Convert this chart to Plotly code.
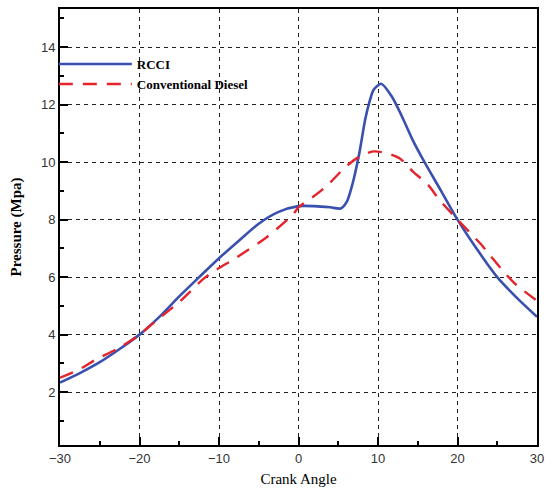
import plotly.graph_objects as go

# Cylinder pressure traces versus crank angle
rcci_angle = [-30, -27.5, -25, -22.5, -20, -17.5, -15, -12.5, -10, -7.5, -5, -2.5,
              0, 2, 4, 5.3, 6.1, 6.8, 7.6, 8.4, 8.9, 9.45, 10.4, 11.7, 13, 14.4,
              15.85, 18, 20, 22.5, 25, 27.5, 30]
rcci_pressure = [2.33, 2.66, 3.04, 3.5, 4.0, 4.62, 5.33, 6.0, 6.66, 7.27, 7.86, 8.27,
                 8.47, 8.47, 8.43, 8.39, 8.64, 9.25, 10.24, 11.5, 12.07, 12.52, 12.73,
                 12.3, 11.6, 10.75, 10.0, 8.97, 8.0, 6.95, 6.0, 5.27, 4.62]

diesel_angle = [-30, -27.5, -25.7, -22.5, -20, -18.2, -14.9, -11.7, -7.7, -4, -0.7, 0,
                2.2, 3.8, 5.7, 7.4, 9.25, 10.9, 12.75, 14.4, 16.3, 17.7, 20, 22.9,
                24.1, 25.8, 27.4, 30]
diesel_pressure = [2.5, 2.8, 3.1, 3.55, 4.0, 4.42, 5.16, 6.0, 6.7, 7.39, 8.18, 8.43,
                   8.87, 9.24, 9.78, 10.15, 10.37, 10.33, 10.13, 9.67, 9.21, 8.7, 8.0,
                   7.16, 6.76, 6.19, 5.73, 5.18]

x_ticks = [-30, -20, -10, 0, 10, 20, 30]
y_ticks = [2, 4, 6, 8, 10, 12, 14]

fig = go.Figure()
fig.add_trace(go.Scatter(
    x=rcci_angle, y=rcci_pressure, mode="lines", name="<b>RCCI</b>",
    line=dict(color="#3a50ae", width=2.6, shape="spline", smoothing=0.7),
))
fig.add_trace(go.Scatter(
    x=diesel_angle, y=diesel_pressure, mode="lines", name="<b>Conventional Diesel</b>",
    line=dict(color="#e4232a", width=2.4, dash="14px,10px", shape="spline", smoothing=0.7),
))

tick_font = dict(family="Liberation Sans, Arial, sans-serif", size=13, color="#333333")
axis_common = dict(
    showline=True, linecolor="black", linewidth=2, mirror=True,
    ticks="inside", ticklen=8, tickwidth=1.5, tickcolor="black",
    showgrid=True, gridcolor="#222222", gridwidth=1, griddash="4px,4px",
    zeroline=False, tickfont=tick_font,
)

fig.update_xaxes(
    range=[-30, 30], tickvals=x_ticks,
    minor=dict(dtick=5, tick0=0, ticks="inside", ticklen=4, tickcolor="black", showgrid=False),
    title=dict(text="Crank Angle", standoff=9,
               font=dict(family="Liberation Serif, Times New Roman, serif", size=15, color="black")),
    **axis_common,
)
fig.update_yaxes(
    range=[0.16, 15.33], tickvals=y_ticks,
    minor=dict(dtick=1, tick0=0, ticks="inside", ticklen=4, tickcolor="black", showgrid=False),
    title=dict(text="<b>Pressure (Mpa)</b>", standoff=16,
               font=dict(family="Liberation Serif, Times New Roman, serif", size=15, color="black")),
    **axis_common,
)

fig.update_layout(
    width=551, height=492,
    margin=dict(l=60, r=7, t=8, b=41),
    paper_bgcolor="white", plot_bgcolor="white",
    showlegend=True,
    legend=dict(
        x=-0.013, y=0.908, xanchor="left", yanchor="top",
        bgcolor="rgba(0,0,0,0)", borderwidth=0, itemwidth=73,
        font=dict(family="Liberation Serif, Times New Roman, serif", size=13, color="black"),
        tracegroupgap=0,
    ),
)

fig.write_html("out.html")
